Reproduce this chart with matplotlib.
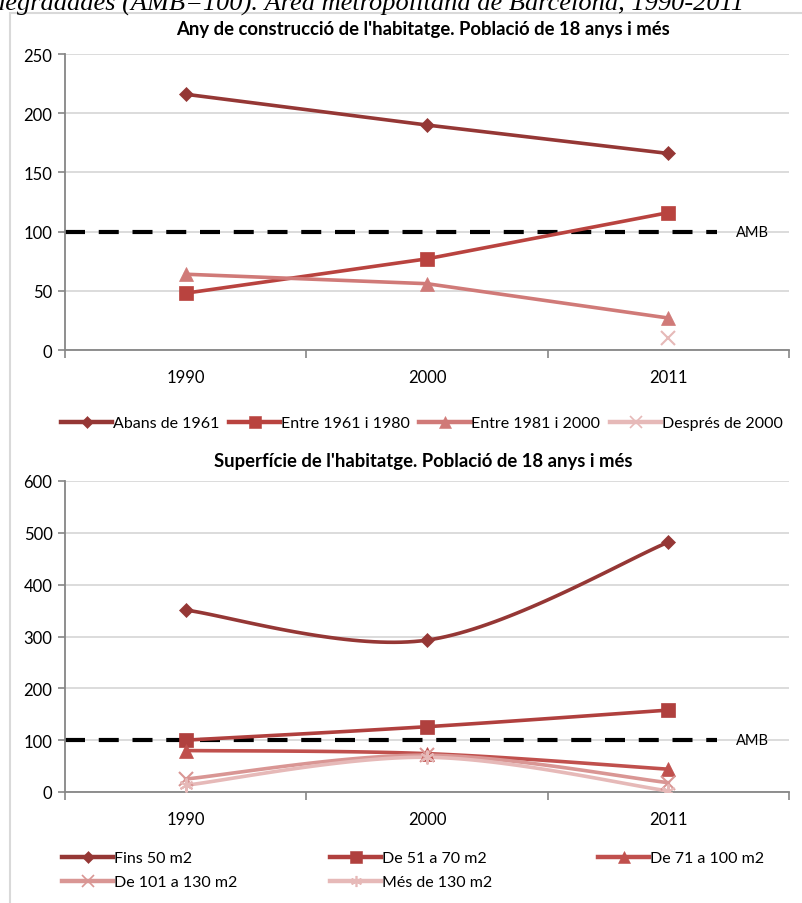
import numpy as np
import matplotlib
matplotlib.use("Agg")
import matplotlib.pyplot as plt
from matplotlib.lines import Line2D
from matplotlib.patches import Rectangle

plt.rcParams['font.family'] = ['Lato', 'DejaVu Sans']

years = ["1990", "2000", "2011"]

# Chart 1: year of construction
top_title = "Any de construcció de l'habitatge. Població de 18 anys i més"
top_names = ["Abans de 1961", "Entre 1961 i 1980", "Entre 1981 i 2000", "Després de 2000"]
abans_1961 = [216, 190, 166]
entre_61_80 = [48, 77, 116]
entre_81_00 = [64, 56, 27]
despres_2000 = [np.nan, np.nan, 10]
top_values = [abans_1961, entre_61_80, entre_81_00, despres_2000]
top_colors = ["#953735", "#B9433F", "#D07A78", "#E6B9B8"]
top_markers = ["D", "s", "^", "x"]
top_ms = [7.5, 10, 10, 10]

# Chart 2: surface
bot_title = "Superfície de l'habitatge. Població de 18 anys i més"
bot_names = ["Fins 50 m2", "De 51 a 70 m2", "De 71 a 100 m2", "De 101 a 130 m2", "Més de 130 m2"]
fins_50 = [351, 293, 482]
de_51_70 = [100, 126, 158]
de_71_100 = [80, 74, 44]
de_101_130 = [25, 71, 18]
mes_130 = [13, 67, 2]
bot_values = [fins_50, de_51_70, de_71_100, de_101_130, mes_130]
bot_colors = ["#953735", "#B0403E", "#C0504D", "#D99694", "#E6B9B8"]
bot_markers = ["D", "s", "^", "x", (6, 2, 0)]
bot_ms = [7.5, 10, 10, 10, 10]

amb_value = 100
amb_label = "AMB"
caption = "degradades (AMB=100). Àrea metropolitana de Barcelona, 1990-2011"

W, H = 802, 904
fig = plt.figure(figsize=(W / 100, H / 100), dpi=100)

# outer chart border
fig.patches.append(Rectangle((10 / W, -0.01), 800 / W, 1 - 14 / H + 0.01, transform=fig.transFigure,
                             fill=False, edgecolor="#D9D9D9", linewidth=1.5))
fig.text(-8 / W, 1 - 10 / H, caption, fontsize=19, family="Liberation Serif", style="italic",
         ha="left", va="baseline")


def smooth(xs, ys, n=40):
    xs = np.asarray(xs, float)
    ys = np.asarray(ys, float)
    pts = np.column_stack([xs, ys])
    out = []
    for i in range(len(pts) - 1):
        p0 = pts[max(i - 1, 0)]
        p1 = pts[i]
        p2 = pts[i + 1]
        p3 = pts[min(i + 2, len(pts) - 1)]
        c1 = p1 + (p2 - p0) / 6
        c2 = p2 - (p3 - p1) / 6
        t = np.linspace(0, 1, n)[:, None]
        seg = (1 - t) ** 3 * p1 + 3 * (1 - t) ** 2 * t * c1 + 3 * (1 - t) * t ** 2 * c2 + t ** 3 * p2
        out.append(seg if i == 0 else seg[1:])
    a = np.vstack(out)
    return a[:, 0], a[:, 1]


def style_axes(ax, ymax, ystep, title, title_y):
    ax.set_xlim(-0.5, 2.5)
    ax.set_ylim(0, ymax)
    ax.set_yticks(np.arange(0, ymax + 1, ystep))
    ax.set_xticks(range(len(years)))
    ax.set_xticklabels(years)
    ax.set_xticks([-0.5, 0.5, 1.5, 2.5], minor=True)
    ax.tick_params(axis="x", which="major", length=0, pad=14, labelsize=12)
    ax.tick_params(axis="x", which="minor", length=6, color="#868686", width=1.2)
    ax.tick_params(axis="y", length=5, color="#868686", width=1.2, labelsize=12, pad=4)
    for s in ["top", "right"]:
        ax.spines[s].set_visible(False)
    for s in ["left", "bottom"]:
        ax.spines[s].set_color("#868686")
        ax.spines[s].set_linewidth(1.3)
    ax.grid(axis="y", color="#D9D9D9", linewidth=1.3)
    ax.set_axisbelow(True)
    fig.text(423 / W, 1 - title_y / H, title, fontsize=13.3, fontweight="bold",
             ha="center", va="center")
    ax.plot([-0.5, 2.2], [amb_value, amb_value], color="black", linewidth=3,
            dashes=(4.8, 3.3), zorder=2, clip_on=False)
    ax.text(2.28, amb_value, amb_label, fontsize=10.5, va="center", ha="left")


def mew(m):
    return 1.5 if m in ("x", (6, 2, 0)) else 0.5


x = np.arange(len(years))

ax1 = fig.add_axes([65 / W, 1 - 351 / H, 724 / W, 296 / H])
style_axes(ax1, 250, 50, top_title, 30)
handles = []
for name, vals, c, m, ms in zip(top_names, top_values, top_colors, top_markers, top_ms):
    ax1.plot(x, vals, color=c, linewidth=2.6, zorder=3)
    ax1.plot(x, vals, linestyle="none", marker=m, markersize=ms, color=c,
             markeredgewidth=mew(m), zorder=4)
    handles.append(Line2D([], [], color=c, linewidth=3.2, marker=m, markersize=ms * 0.8,
                          markeredgewidth=mew(m) * 0.8))
fig.legend(handles, top_names, loc="center", bbox_to_anchor=(422 / W, 1 - 424 / H), ncol=4,
           frameon=False, fontsize=11.5, handlelength=3.2, handletextpad=0.05, columnspacing=0.6,
           borderpad=0, borderaxespad=0)

ax2 = fig.add_axes([65 / W, 1 - 793 / H, 724 / W, 311 / H])
style_axes(ax2, 600, 100, bot_title, 462)
handles2 = []
for name, vals, c, m, ms in zip(bot_names, bot_values, bot_colors, bot_markers, bot_ms):
    sx, sy = smooth(x, vals)
    ax2.plot(sx, sy, color=c, linewidth=2.6, zorder=3)
    ax2.plot(x, vals, linestyle="none", marker=m, markersize=ms, color=c,
             markeredgewidth=mew(m), zorder=4)
    handles2.append(Line2D([], [], color=c, linewidth=3.2, marker=m, markersize=ms * 0.8,
                           markeredgewidth=mew(m) * 0.8))

col_x = [62, 330, 598]
for col in range(3):
    idx = [i for i in range(len(bot_names)) if i % 3 == col]
    fig.legend([handles2[i] for i in idx], [bot_names[i] for i in idx], loc="upper left",
               bbox_to_anchor=(col_x[col] / W, 1 - 852 / H), frameon=False, fontsize=11.5,
               handlelength=3.2, handletextpad=0.05, labelspacing=0.62,
               borderpad=0, borderaxespad=0)

fig.savefig("out.png", dpi=100)
